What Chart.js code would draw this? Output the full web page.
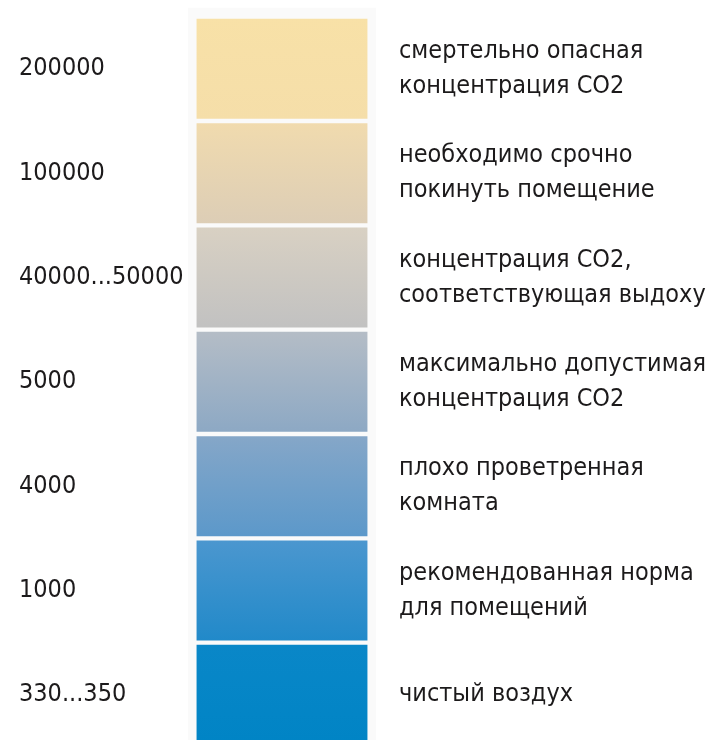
<!DOCTYPE html>
<html>
<head>
<meta charset="utf-8">
<script src="https://cdn.jsdelivr.net/npm/chart.js@4/dist/chart.umd.min.js"></script>
<style>
  html, body { margin: 0; padding: 0; background: #fff; overflow: hidden; }
  #wrap { width: 719px; height: 747px; }
</style>
</head>
<body>
<div id="wrap"><canvas id="chart" width="719" height="747"></canvas></div>
<script>
// уровни CO2, ppm (сверху вниз)
const levels = ["200000", "100000", "40000...50000", "5000", "4000", "1000", "330...350"];
const descriptions = [
    ["смертельно опасная", "концентрация CO2"],
    ["необходимо срочно", "покинуть помещение"],
    ["концентрация CO2,", "соответствующая выдоху"],
    ["максимально допустимая", "концентрация CO2"],
    ["плохо проветренная", "комната"],
    ["рекомендованная норма", "для помещений"],
    ["чистый воздух"],
];
// каждая полоса занимает всю ширину столбца
const spans = levels.map(() => [0.055, 0.945]);
const panelSpan = [0.01, 0.99];

// цвета градиента: верх / низ каждой полосы
const topColors = ["#f8e1a7", "#f1dbae", "#d9d1c3", "#b5bdc6", "#86a7c8", "#4c97cf", "#0a87c8"];
const bottomColors = ["#f5dea9", "#dccdb6", "#c1c1c1", "#8ca8c4", "#5b98ca", "#2089c9", "#0084c5"];

const textColor = "#1c1a1b";
const font = { family: "'DejaVu Sans Condensed', 'Liberation Sans Narrow', sans-serif", size: 25 };

// светлая подложка за столбцом
const panelPlugin = {
    id: "panel",
    beforeDatasetsDraw(chart) {
        const { ctx, chartArea, scales } = chart;
        const left = scales.x.getPixelForValue(panelSpan[0]);
        const right = scales.x.getPixelForValue(panelSpan[1]);
        ctx.save();
        ctx.fillStyle = "#fafafa";
        ctx.fillRect(left, chartArea.top - 9, right - left, chartArea.bottom - chartArea.top + 9);
        ctx.restore();
    }
};

const gradientFor = (context) => {
    const chart = context.chart;
    const i = context.dataIndex;
    if (!chart.chartArea || i === undefined) return topColors[0];
    const y = chart.scales.y;
    const band = y.getPixelForValue(1) - y.getPixelForValue(0);
    const c = y.getPixelForValue(i);
    const g = chart.ctx.createLinearGradient(0, c - band / 2, 0, c + band / 2);
    g.addColorStop(0, topColors[i]);
    g.addColorStop(1, bottomColors[i]);
    return g;
};

// без авто-отступов под подписи
const noPad = (w) => (scale) => {
    scale.width = w;
    scale.paddingTop = 0;
    scale.paddingBottom = 0;
};

new Chart(document.getElementById("chart"), {
    type: "bar",
    data: {
        labels: levels,
        datasets: [{
            data: spans,
            backgroundColor: gradientFor,
            borderWidth: 0,
            categoryPercentage: 1,
            barPercentage: 0.9585,
            yAxisID: "y",
        }],
    },
    plugins: [panelPlugin],
    options: {
        indexAxis: "y",
        responsive: false,
        animation: false,
        layout: { padding: { left: 19, top: 16.7, right: 0, bottom: 0 } },
        plugins: { legend: { display: false }, tooltip: { enabled: false } },
        scales: {
            x: { type: "linear", min: 0, max: 1, display: false },
            y: {
                type: "category",
                position: "left",
                grid: { display: false },
                border: { display: false },
                ticks: { color: textColor, font: font, crossAlign: "far", padding: 0, autoSkip: false },
                afterFit: noPad(167),
            },
            desc: {
                type: "category",
                position: "right",
                labels: descriptions,
                grid: { display: false },
                border: { display: false },
                ticks: { color: textColor, font: { ...font, lineHeight: 1.4 }, crossAlign: "near", padding: 13, autoSkip: false },
                afterFit: noPad(341),
            },
        },
    },
});
</script>
</body>
</html>
